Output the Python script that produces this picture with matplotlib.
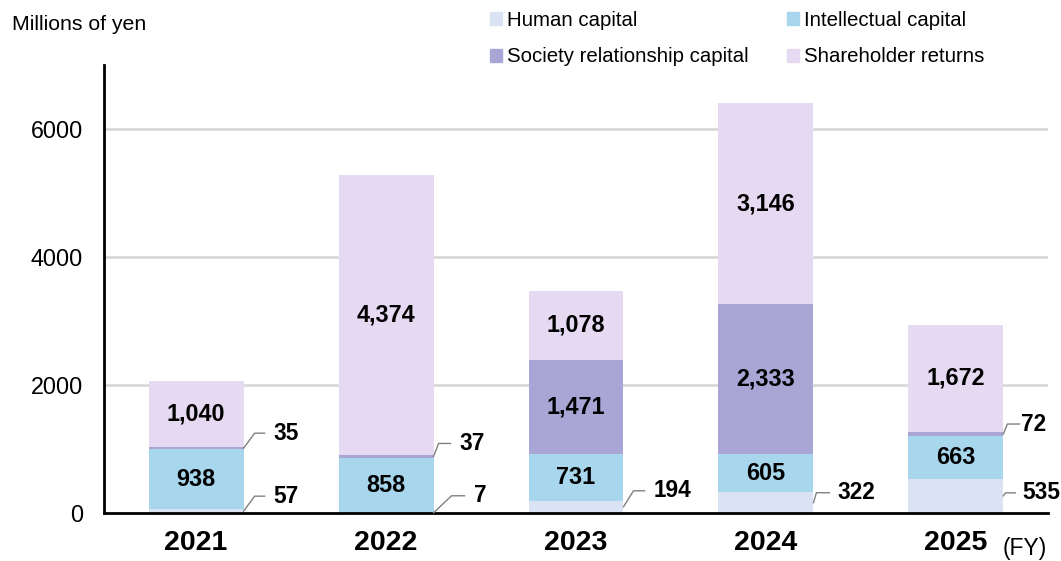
import numpy as np
import matplotlib.pyplot as plt
from matplotlib.patches import Patch
from matplotlib.transforms import IdentityTransform

plt.rcParams['font.family'] = ['Liberation Sans', 'DejaVu Sans']

years = ['2021', '2022', '2023', '2024', '2025']
human = [57, 7, 194, 322, 535]
intellectual = [938, 858, 731, 605, 663]
society = [35, 37, 1471, 2333, 72]
shareholder = [1040, 4374, 1078, 3146, 1672]

series_names = ['Human capital', 'Intellectual capital',
                'Society relationship capital', 'Shareholder returns']
colors = ['#DAE3F3', '#A8D6EC', '#A9A6D6', '#E6DAF3']

# which segments get an outside label with a leader line: (year idx, series idx)
outside = {(0, 0), (0, 2), (1, 0), (1, 2), (2, 0), (3, 0), (4, 0), (4, 2)}
# leader line shapes in pixels: (dx, rise, horizontal length, text gap)
leader = {(0, 0): (11, 15, 10, 9), (0, 2): (11, 15, 10, 9),
          (1, 0): (18, 17, 13, 9), (1, 2): (5, 13, 12, 9),
          (2, 0): (10, 16, 11, 9), (3, 0): (3, 10, 13, 8),
          (4, 0): (2, 3, 10, 7), (4, 2): (4, 10, 12, 2)}

fig = plt.figure(figsize=(10.61, 5.61), dpi=100)
ax = fig.add_axes([104 / 1061, 1 - 513 / 561, (1048 - 104) / 1061, (513 - 65) / 561])

x = np.arange(len(years))
width = 0.5
data = [human, intellectual, society, shareholder]
bottom = np.zeros(len(years))
for vals, c in zip(data, colors):
    ax.bar(x, vals, width, bottom=bottom, color=c, zorder=2)
    bottom += np.array(vals)

ax.set_xlim(-0.485, 4.485)
ax.set_ylim(0, 7000)
ax.set_yticks([0, 2000, 4000, 6000])
ax.set_yticklabels(['0', '2000', '4000', '6000'], fontsize=16.8)
ax.tick_params(axis='y', length=0, pad=15)
ax.tick_params(axis='x', length=0, pad=12)
ax.set_xticks(x)
ax.set_xticklabels(years, fontsize=20.5, fontweight='bold')
for yv in [2000, 4000, 6000]:
    ax.axhline(yv, color='#D9D9D9', lw=2, zorder=1)
for s in ['top', 'right']:
    ax.spines[s].set_visible(False)
ax.spines['left'].set_linewidth(2)
ax.spines['bottom'].set_linewidth(2)
ax.spines['bottom'].set_zorder(3)

fig.canvas.draw()
for i in range(len(years)):
    base = 0
    for j, vals in enumerate(data):
        v = vals[i]
        mid = base + v / 2
        if (i, j) in outside:
            dx, rise, hl, gap = leader[(i, j)]
            px, py = ax.transData.transform((x[i] + width / 2, mid))
            xs = [px, px + dx, px + dx + hl]
            ys = [py, py + rise, py + rise]
            ax.plot(xs, ys, color='#808080', lw=1, transform=IdentityTransform(),
                    clip_on=False, zorder=4)
            tx, ty = ax.transData.inverted().transform((px + dx + hl + gap, py + rise))
            ax.text(tx, ty, f'{v:,}', ha='left', va='center', fontsize=16.3,
                    fontweight='bold', zorder=5)
        else:
            ax.text(x[i], mid, f'{v:,}', ha='center', va='center', fontsize=16.8,
                    fontweight='bold', zorder=5)
        base += v

fig.text(12 / 1061, 1 - 25 / 561, 'Millions of yen', fontsize=15.3, ha='left', va='center')
fig.text(1003 / 1061, 1 - 548 / 561, '(FY)', fontsize=16.5, ha='left', va='center')

handles = [Patch(color=c) for c in colors]
order = [0, 2, 1, 3]
fig.legend([handles[k] for k in order], [series_names[k] for k in order],
           ncol=2, loc='upper left', bbox_to_anchor=(486 / 1061, 1 - 7 / 561),
           frameon=False, fontsize=14.7, handlelength=0.6, handleheight=0.6,
           handletextpad=0.25, columnspacing=1.85, labelspacing=0.85,
           borderaxespad=0, borderpad=0.2)

fig.savefig('out.png', dpi=100)
